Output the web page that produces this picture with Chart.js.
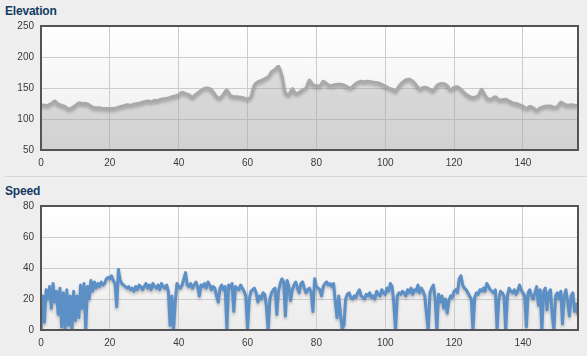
<!DOCTYPE html>
<html>
<head>
<meta charset="utf-8">
<script src="https://cdn.jsdelivr.net/npm/chart.js@4"></script>
<style>
  html, body { margin:0; padding:0; background:#eeeeee; }
  body { width:587px; height:356px; position:relative; overflow:hidden; font-family: Arial, "Liberation Sans", sans-serif; }
  .title { position:absolute; left:5px; font-size:12px; font-weight:bold; color:#123a63; letter-spacing:-0.2px; line-height:14px; }
  .sep { position:absolute; left:5px; right:0; top:176px; height:1px; background:#d6d6d6; }
  canvas { position:absolute; left:0; }
</style>
</head>
<body>
<div class="title" style="top:4px">Elevation</div>
<div class="sep"></div>
<div class="title" style="top:184px">Speed</div>
<canvas id="elev" width="587" height="176" style="top:0"></canvas>
<canvas id="speed" width="587" height="180" style="top:176px"></canvas>
<script>
// ---- data ----
const xTicks = [0, 20, 40, 60, 80, 100, 120, 140];
const distanceMax = 156;
const elevationStep = 1;
const elevation = [123,122,122,125,129,124,122,120,116,118,122,126,125,125,123,119,118,118,117,117,
  117,117,118,120,121,123,122,124,125,126,128,129,128,130,130,132,133,134,136,137,
  139,143,141,139,135,140,144,148,150,149,144,136,134,140,147,138,136,136,135,134,
  132,136,155,160,162,165,168,176,180,185,170,142,139,149,141,143,147,150,163,155,
  154,153,161,157,154,155,156,156,155,152,150,155,159,161,160,161,160,159,158,156,
  153,150,148,145,153,159,163,164,161,155,148,151,151,148,146,154,157,157,154,147,
  151,152,148,142,138,135,135,137,148,138,132,133,136,131,131,132,129,126,125,123,
  121,117,120,118,114,118,120,121,121,119,120,127,124,122,123,122,122];
const elevationTicks = [50, 100, 150, 200, 250];
const speedStep = 0.5;
const speed = [0,22,5,26,20,28,14,30,18,25,10,27,2,24,0,26,3,22,0,25,
  6,22,8,29,14,30,0,28,20,32,25,31,27,30,28,31,29,30,33,34,
  33,35,32,30,15,39,32,30,29,28,27,28,26,27,25,28,26,29,28,26,
  28,30,27,29,26,30,28,27,29,26,30,28,27,29,25,3,22,0,18,30,
  28,27,29,33,37,29,28,30,27,29,31,28,22,29,28,30,27,31,29,26,
  28,27,22,18,27,29,26,28,1,29,27,30,12,28,27,26,29,27,25,22,
  1,20,25,26,27,24,18,22,20,24,23,15,0,20,24,26,27,10,25,30,
  33,31,9,32,28,19,26,29,31,27,24,30,31,27,24,26,27,24,12,33,
  28,27,26,22,28,30,31,29,30,28,30,18,8,22,10,1,3,20,23,24,
  21,20,22,21,24,26,22,21,20,23,22,24,21,22,20,25,23,22,26,24,
  23,27,25,30,28,17,0,22,24,23,25,24,22,26,24,27,23,26,25,29,
  24,27,25,22,10,0,24,27,29,20,0,23,18,22,14,20,11,19,22,21,
  25,26,24,33,35,29,27,26,24,22,20,0,21,24,23,26,25,27,25,30,
  28,26,25,24,26,0,20,25,24,22,0,22,27,25,24,26,23,25,29,26,
  24,22,2,24,26,22,20,24,28,16,26,0,25,27,13,24,26,10,0,22,
  24,20,25,4,22,26,18,9,22,24,12,17,10];
const speedTicks = [0, 20, 40, 60, 80];

// ---- helpers ----
const FONT = { family: 'Arial, "Liberation Sans", sans-serif', size: 10 };
const frameBg = {
  id: 'frameBg',
  beforeDraw(chart) {
    const { ctx, chartArea: a } = chart;
    const g = ctx.createLinearGradient(0, a.top, 0, a.bottom);
    g.addColorStop(0, '#ffffff');
    g.addColorStop(1, '#ececec');
    ctx.save();
    ctx.fillStyle = g;
    ctx.fillRect(a.left, a.top, a.right - a.left, a.bottom - a.top);
    ctx.restore();
  },
  beforeDatasetDraw(chart) {
    const ctx = chart.ctx;
    ctx.save();
    ctx.shadowColor = 'rgba(0,0,0,0.25)';
    ctx.shadowBlur = 3;
    ctx.shadowOffsetY = 2;
  },
  afterDatasetDraw(chart) {
    chart.ctx.restore();
  },
  afterDraw(chart) {
    const { ctx, chartArea: a } = chart;
    ctx.save();
    ctx.strokeStyle = '#545454';
    ctx.lineWidth = 2;
    ctx.strokeRect(a.left, a.top, a.right - a.left, a.bottom - a.top);
    ctx.restore();
  }
};

function makeChart(id, points, yTicks, style, topPad) {
  const ctx = document.getElementById(id);
  return new Chart(ctx, {
    type: 'line',
    data: { datasets: [Object.assign({ data: points, pointRadius: 0, borderJoinStyle: 'round' }, style)] },
    options: {
      responsive: false,
      animation: false,
      layout: { padding: { top: topPad, right: 9, left: 0, bottom: 0 } },
      plugins: { legend: { display: false }, tooltip: { enabled: false } },
      scales: {
        x: {
          type: 'linear', min: 0, max: distanceMax,
          afterBuildTicks: s => { s.ticks = xTicks.map(v => ({ value: v })); },
          afterFit: s => { s.height = 26; },
          grid: { color: '#cccccc', drawTicks: false },
          border: { display: false },
          ticks: { font: FONT, color: '#3a3a3a', padding: 7, maxRotation: 0, autoSkip: false }
        },
        y: {
          min: yTicks[0], max: yTicks[yTicks.length - 1],
          afterBuildTicks: s => { s.ticks = yTicks.map(v => ({ value: v })); },
          afterFit: s => { s.width = 41; },
          grid: { color: '#cccccc', drawTicks: false },
          border: { display: false },
          ticks: { font: FONT, color: '#3a3a3a', padding: 7 }
        }
      }
    },
    plugins: [frameBg]
  });
}

const elevPts = elevation.map((v, i) => ({ x: i * elevationStep, y: v }));
const speedPts = speed.map((v, i) => ({ x: i * speedStep, y: v }));

makeChart('elev', elevPts, elevationTicks, {
  borderColor: '#a9a9a9', borderWidth: 3, tension: 0.25,
  fill: 'start', backgroundColor: 'rgba(150,150,150,0.3)'
}, 26);

makeChart('speed', speedPts, speedTicks, {
  borderColor: '#5b8fc6', borderWidth: 3, tension: 0, fill: false
}, 30);
</script>
</body>
</html>
